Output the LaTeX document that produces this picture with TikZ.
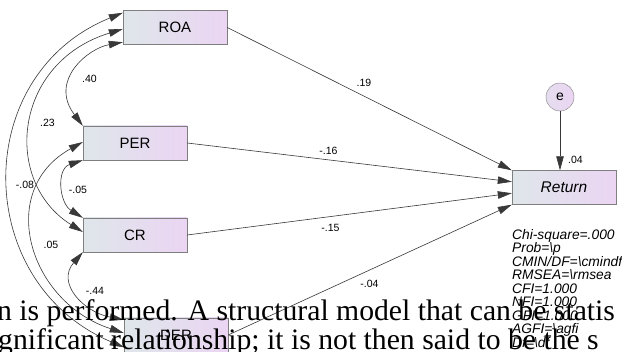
\documentclass[tikz,border=0pt]{standalone}
\usepackage{fontspec}
\setmainfont{Liberation Sans}
\newfontfamily\bodyfont{Liberation Serif}
\usetikzlibrary{arrows.meta,calc}
\definecolor{boxleft}{HTML}{DFE6EA}
\definecolor{boxright}{HTML}{EBD5F3}
\definecolor{boxline}{HTML}{7F7F7F}
\definecolor{pathline}{HTML}{383838}

\tikzset{
  var/.style={draw=boxline, left color=boxleft, right color=boxright,
    minimum width=104pt, minimum height=34pt, inner sep=0pt,
    font=\fontsize{15}{18}\selectfont},
  err/.style={circle, draw=boxline, left color=boxleft!50!boxright, right color=boxright,
    minimum size=28pt, inner sep=0pt, font=\fontsize{14}{16}\selectfont},
  coef/.style={inner sep=0pt, font=\fontsize{10.5}{12}\selectfont},
  reg/.style={draw=pathline, line width=0.6pt, -{Triangle[length=14pt,width=7.5pt]}},
  cov/.style={draw=pathline, line width=0.6pt,
    {Triangle[length=14pt,width=7.5pt]}-{Triangle[length=14pt,width=7.5pt]}},
}

\begin{document}
\begin{tikzpicture}[x=1pt,y=1pt]
\useasboundingbox (0,0) rectangle (622,352);
\clip (0,0) rectangle (622,352);
\fill[white] (0,0) rectangle (622,352);

% Observed variables
\node[var] (ROA) at (175,324.5) {ROA};
\node[var] (PER) at (135,209) {PER};
\node[var] (CR) at (135,117) {CR};
\node[var] (DER) at (176,17) {DER};
\node[var, font=\fontsize{15.5}{18}\selectfont\itshape] (Return) at (564,164.5) {Return};
\node[err] (e) at (560,255) {e};

% Regression paths
\draw[reg] (ROA.east) -- (Return.north west);
\draw[reg] (PER.east) -- ($(Return.north west)!1/3!(Return.south west)$);
\draw[reg] (CR.east) -- ($(Return.north west)!2/3!(Return.south west)$);
\draw[reg] (DER.east) -- (Return.south west);
\draw[reg] (e) -- (e |- Return.north);

% Covariances
\draw[cov] ([yshift=2.5pt]ROA.south west) to[out=190, in=127, out distance=35pt, in distance=57pt] (PER.north west);
\draw[cov] ([yshift=-1.5pt]ROA.west) to[out=197, in=148, out distance=115pt, in distance=95pt] ([yshift=3pt]CR.west);
\draw[cov] ([yshift=-2.5pt]ROA.north west) to[out=202, in=157, out distance=165pt, in distance=165pt] ([yshift=5pt]DER.south west);
\draw[cov] (PER.south west) to[out=198, in=148, out distance=28pt, in distance=28pt] (CR.north west);
\draw[cov] ([yshift=1pt]PER.west) to[out=209, in=162, out distance=100pt, in distance=100pt] ([yshift=2pt]DER.west);
\draw[cov] (CR.south west) to[out=229, in=169, out distance=41pt, in distance=41pt] ([yshift=-2pt]DER.north west);

% Estimates
\node[coef] (bROA) at (364,269) {.19};
\node[coef] (bPER) at (328.5,201.3) {-.16};
\node[coef] (bCR) at (330.5,124) {-.15};
\node[coef] (bDER) at (369.5,68) {-.04};
\node[coef] (r2) at (575.5,192) {.04};
\node[coef] (cRP) at (89.5,273) {.40};
\node[coef] (cRC) at (47.5,229.3) {.23};
\node[coef] (cRD) at (25,167) {-.08};
\node[coef] (cPC) at (78,162) {-.05};
\node[coef] (cPD) at (51,107) {.05};
\node[coef] (cCD) at (95,61.3) {-.44};

% Fit statistics
\node[anchor=north west, align=left, inner sep=0pt,
  font=\fontsize{13.8}{13.5}\selectfont\itshape] (fit) at (512,123)
  {Chi-square=.000\\Prob=\textbackslash p\\CMIN/DF=\textbackslash cmindf\\RMSEA=\textbackslash rmsea\\CFI=1.000\\NFI=1.000\\GFI=1.000\\AGFI=\textbackslash agfi\\Df=\textbackslash df};

% Page text behind the figure
\node[anchor=base west, inner sep=0pt, font=\bodyfont\fontsize{29.7}{29}\selectfont] (line1) at (-3,31)
  {n is performed. A structural model that can be statis};
\node[anchor=base west, inner sep=0pt, font=\bodyfont\fontsize{29.7}{29}\selectfont] (line2) at (-2,2)
  {gnificant relationship; it is not then said to be the s};

\end{tikzpicture}
\end{document}
